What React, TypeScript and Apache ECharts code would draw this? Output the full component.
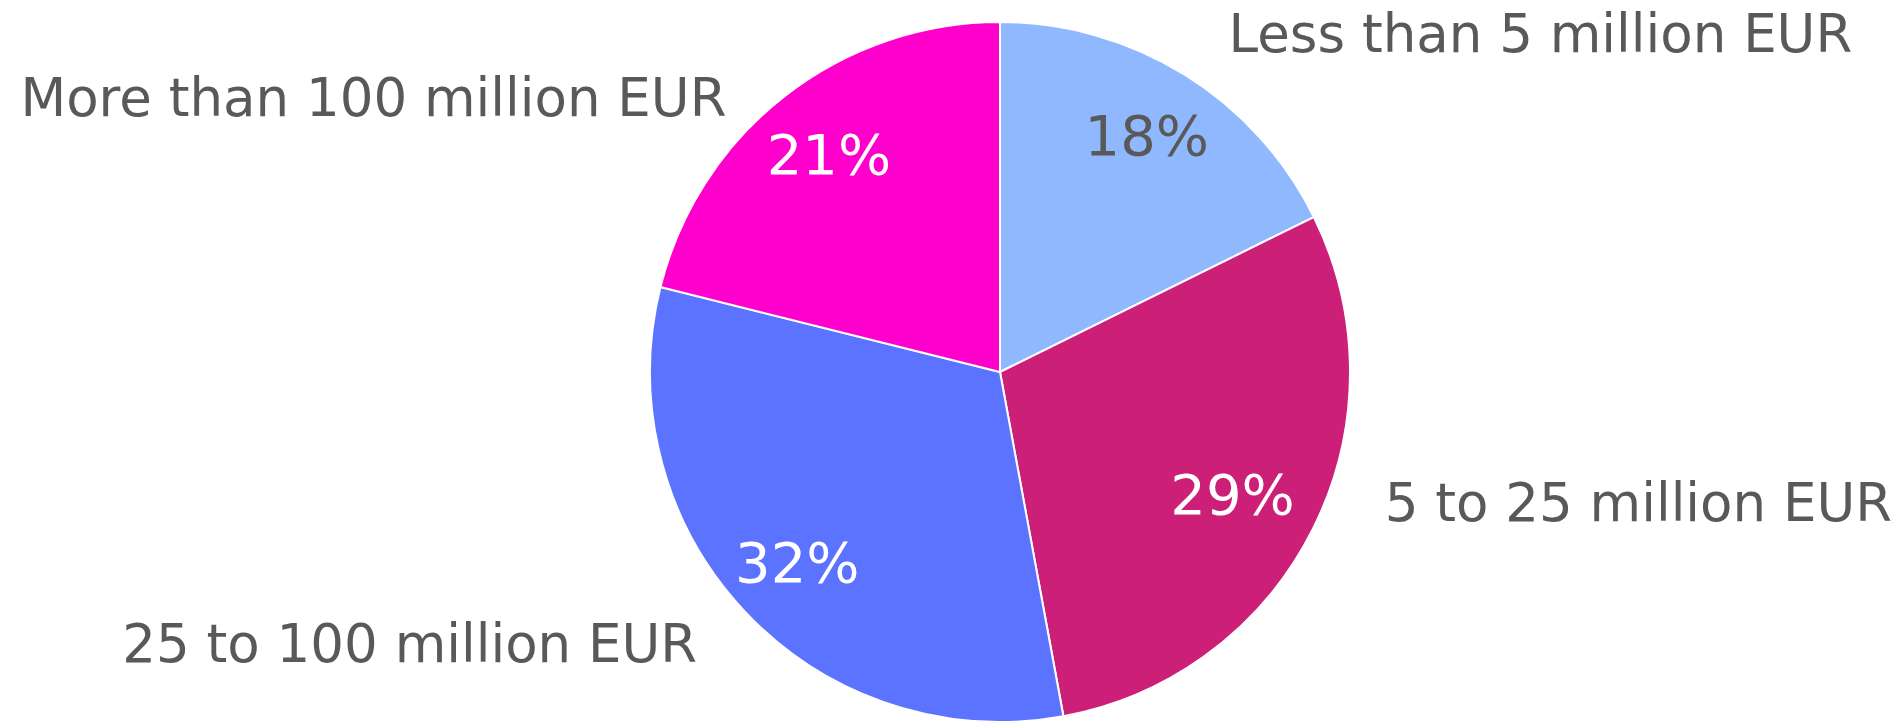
import React, { useEffect, useRef } from "react";
import * as echarts from "echarts";

const categories = [
  "Less than 5 million EUR",
  "5 to 25 million EUR",
  "25 to 100 million EUR",
  "More than 100 million EUR",
];
const shares = [17.7, 29.4, 31.8, 21.1];
const sliceColors = ["#8FB8FF", "#CC1F77", "#5C73FF", "#FF00CC"];
const pctColors = ["#595959", "#FFFFFF", "#FFFFFF", "#FFFFFF"];
const labelShiftX = [-4, 6, 10, -6];
const labelShiftY = [0, -48, -2, 40];
const pctShiftX = [0, -16, 0, 0];
const pctShiftY = [0, -2, 0, 2];

const FONT = "'DejaVu Sans', sans-serif";

export default function App() {
  const ref = useRef<HTMLDivElement>(null);

  useEffect(() => {
    if (!ref.current) return;
    const chart = echarts.init(ref.current, undefined, { renderer: "svg" });
    const center = [1000, 372];
    chart.setOption({
      animation: false,
      backgroundColor: "#FFFFFF",
      series: [
        {
          type: "pie",
          center,
          radius: [0, 350],
          startAngle: 90,
          clockwise: true,
          silent: true,
          avoidLabelOverlap: false,
          itemStyle: { borderColor: "#FFFFFF", borderWidth: 2 },
          label: {
            show: true,
            position: "outside",
            formatter: "{b}",
            fontFamily: FONT,
            fontSize: 53,
            color: "#595959",
            overflow: "none",
            bleedMargin: 0,
            distanceToLabelLine: 5,
          },
          labelLine: { show: false, length: 49, length2: 17 },
          labelLayout: (p: any) => ({
            dx: labelShiftX[p.dataIndex],
            dy: labelShiftY[p.dataIndex],
          }),
          emphasis: { disabled: true },
          data: categories.map((name, i) => ({
            name,
            value: shares[i],
            itemStyle: { color: sliceColors[i] },
          })),
        },
        {
          type: "pie",
          center,
          radius: [200, 350],
          startAngle: 90,
          clockwise: true,
          silent: true,
          avoidLabelOverlap: false,
          itemStyle: { color: "rgba(0,0,0,0)", borderWidth: 0 },
          label: {
            show: true,
            position: "inside",
            fontFamily: FONT,
            fontSize: 56,
            formatter: (p: any) => Math.round(p.percent) + "%",
          },
          labelLine: { show: false },
          labelLayout: (p: any) => ({
            dx: pctShiftX[p.dataIndex],
            dy: pctShiftY[p.dataIndex],
          }),
          emphasis: { disabled: true },
          data: categories.map((name, i) => ({
            name,
            value: shares[i],
            label: { color: pctColors[i] },
          })),
        },
      ],
    });
    return () => chart.dispose();
  }, []);

  return (
    <div
      ref={ref}
      style={{ position: "absolute", left: 0, top: 0, width: 1901, height: 723 }}
    />
  );
}
